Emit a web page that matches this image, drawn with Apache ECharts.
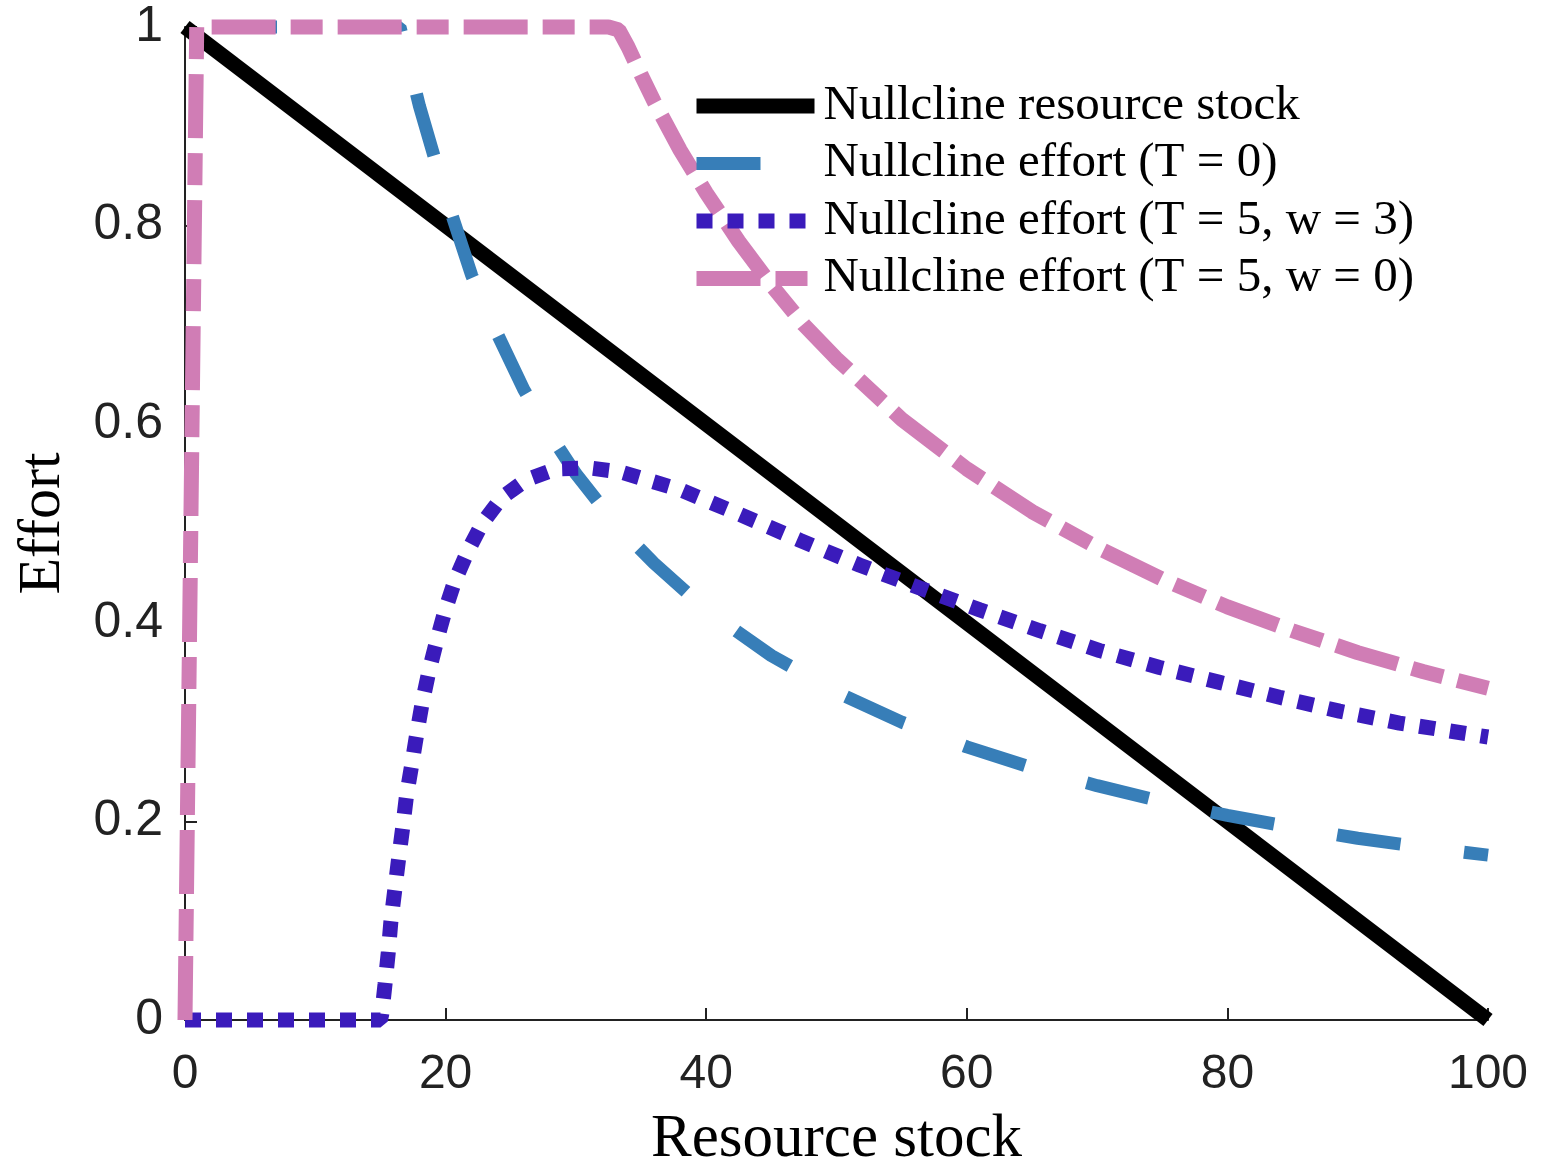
<!DOCTYPE html>
<html>
<head>
<meta charset="utf-8">
<script src="https://cdn.jsdelivr.net/npm/echarts@6/dist/echarts.min.js"></script>
<style>
  html, body { margin: 0; padding: 0; background: #fff; }
  #chart { width: 1558px; height: 1160px; }
</style>
</head>
<body>
<div id="chart"></div>
<script>
// series names (legend)
const seriesNames = [
    'Nullcline resource stock',
    'Nullcline effort (T = 0)',
    'Nullcline effort (T = 5, w = 3)',
    'Nullcline effort (T = 5, w = 0)'
];

// resource stock nullcline
const stockX = [0, 100];
const stockY = [1, 0];

// effort nullcline, T = 0
const effort0X = [0, 16.5, 18, 20, 22, 24, 26, 28, 30, 33, 36, 40, 45, 50, 55, 60, 65, 70, 75, 80, 85, 90, 95, 100];
const effort0Y = [1, 1, 0.92, 0.83, 0.75, 0.69, 0.635, 0.59, 0.55, 0.50, 0.46, 0.413, 0.367, 0.33, 0.30, 0.275, 0.254, 0.236, 0.22, 0.206, 0.194, 0.183, 0.174, 0.166];

// effort nullcline, T = 5, w = 3
const effort53X = [0, 15, 15.1, 15.35, 15.6, 15.8, 16.1, 16.4, 16.7, 17.0, 17.4, 17.8, 18.2, 18.7, 19.3, 19.95, 20.7, 21.7, 22.8, 24.3, 26.2, 28.5, 31, 33.4, 38, 42.6, 47.2, 51.8, 56.4, 61, 65.6, 70.2, 74.8, 79.4, 84, 88.6, 93.2, 100];
const effort53Y = [0, 0, 0.006, 0.036, 0.068, 0.099, 0.131, 0.163, 0.193, 0.226, 0.257, 0.289, 0.319, 0.35, 0.381, 0.412, 0.442, 0.472, 0.50, 0.526, 0.544, 0.555, 0.556, 0.552, 0.534, 0.509, 0.483, 0.458, 0.435, 0.413, 0.392, 0.372, 0.355, 0.340, 0.325, 0.311, 0.299, 0.285];

// effort nullcline, T = 5, w = 0
const effort50X = [0, 0.9, 32.5, 33.3, 34, 35, 36, 38, 40, 42.5, 45, 47.5, 50, 55, 60, 65, 70, 75, 80, 85, 90, 95, 100];
const effort50Y = [0, 1, 1, 0.997, 0.98, 0.952, 0.925, 0.876, 0.833, 0.784, 0.74, 0.70, 0.666, 0.605, 0.555, 0.512, 0.476, 0.444, 0.416, 0.392, 0.37, 0.351, 0.334];

const xTicks = [0, 20, 40, 60, 80, 100];
const yTicks = [0, 0.2, 0.4, 0.6, 0.8, 1];

function zip(xs, ys) {
    return xs.map((x, i) => [x, ys[i]]);
}

const chart = echarts.init(document.getElementById('chart'));

const serif = 'Liberation Serif';
const sans = 'Liberation Sans';

const option = {
    animation: false,
    backgroundColor: '#fff',
    grid: { left: 185, right: 70, top: 27, bottom: 140, outerBoundsMode: 'none' },
    legend: {
        orient: 'vertical',
        left: 684,
        top: 76,
        itemWidth: 118,
        itemHeight: 16,
        itemGap: 7.5,
        itemStyle: { opacity: 0 },
        lineStyle: { width: 'inherit' },
        data: [
            seriesNames[0],
            { name: seriesNames[1], lineStyle: { dashOffset: 0 } },
            seriesNames[2],
            seriesNames[3]
        ],
        textStyle: {
            fontFamily: serif,
            fontSize: 49,
            lineHeight: 50,
            color: '#000',
            padding: [0, 0, 0, 4]
        }
    },
    xAxis: {
        type: 'value',
        min: 0,
        max: 100,
        interval: 20,
        name: 'Resource stock',
        nameLocation: 'middle',
        nameGap: 89,
        nameTextStyle: { fontFamily: serif, fontSize: 61, color: '#000' },
        axisLine: { lineStyle: { color: '#222', width: 2 } },
        axisTick: { inside: true, length: 12, lineStyle: { color: '#222', width: 2 } },
        axisLabel: {
            margin: 31,
            fontFamily: sans,
            fontSize: 48,
            color: '#222',
            formatter: v => (xTicks.includes(v) ? String(v) : '')
        },
        splitLine: { show: false }
    },
    yAxis: {
        type: 'value',
        min: 0,
        max: 1,
        interval: 0.2,
        name: 'Effort',
        nameLocation: 'middle',
        nameGap: 112,
        nameTextStyle: { fontFamily: serif, fontSize: 60, color: '#000' },
        axisLine: { show: true, lineStyle: { color: '#222', width: 2 } },
        axisTick: { show: true, inside: true, length: 12, lineStyle: { color: '#222', width: 2 } },
        axisLabel: {
            margin: 22,
            fontFamily: sans,
            fontSize: 50,
            color: '#222',
            formatter: v => (yTicks.some(t => Math.abs(t - v) < 1e-9) ? String(+v.toFixed(1)) : '')
        },
        splitLine: { show: false }
    },
    series: [
        {
            name: seriesNames[0],
            type: 'line',
            data: zip(stockX, stockY),
            symbol: 'none',
            clip: false,
            lineStyle: { color: '#000', width: 15, type: 'solid' },
            itemStyle: { color: '#000' }
        },
        {
            name: seriesNames[1],
            type: 'line',
            data: zip(effort0X, effort0Y),
            symbol: 'none',
            clip: false,
            lineStyle: { color: '#377eb8', width: 13, type: [64, 64], dashOffset: 100 },
            itemStyle: { color: '#377eb8' }
        },
        {
            name: seriesNames[2],
            type: 'line',
            data: zip(effort53X, effort53Y),
            symbol: 'none',
            clip: false,
            lineStyle: { color: '#3a1bbb', width: 15, type: [16, 15] },
            itemStyle: { color: '#3a1bbb' }
        },
        {
            name: seriesNames[3],
            type: 'line',
            data: zip(effort50X, effort50Y),
            symbol: 'none',
            clip: false,
            lineStyle: { color: '#d07db5', width: 15, type: [64, 15, 32, 15] },
            itemStyle: { color: '#d07db5' }
        }
    ]
};

chart.setOption(option);

window.addEventListener('resize', function () {
    chart.resize();
});
</script>
</body>
</html>
